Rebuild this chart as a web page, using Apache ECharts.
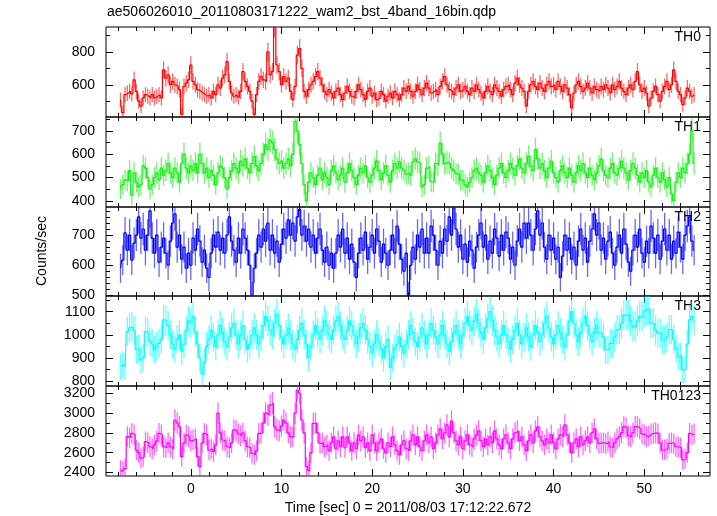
<!DOCTYPE html>
<html><head><meta charset="utf-8">
<script src="https://cdn.jsdelivr.net/npm/echarts@6/dist/echarts.min.js"></script>
<style>html,body{margin:0;padding:0;background:#fff}#c{width:717px;height:516px}</style>
</head><body><div id="c"></div>
<script>
const TITLE = 'ae506026010_20110803171222_wam2_bst_4band_16bin.qdp';
const X_TITLE = 'Time [sec] 0 = 2011/08/03 17:12:22.672';
const Y_TITLE = 'Counts/sec';
const PANEL_NAMES = ['TH0', 'TH1', 'TH2', 'TH3', 'TH0123'];
const COLORS = ['#ff0000', '#11ee11', '#0000ff', '#00ffff', '#ff00ff'];
const T_START = -7.75;   // centre of first time bin [sec]
const BIN = 0.25;        // bin width [sec]

const TH0 = [
508,430,540,
550,560,545,630, 560,500,470,520,
540,530,520,540, 520,530,540,520,
690,640,660,600, 620,600,590,570,
420,590,610,630, 720,620,600,570,
560,550,540,530, 540,520,560,540,
600,580,640,660, 740,620,550,530,
540,525,560,680, 620,590,560,500,
420,540,620,650, 630,620,800,660,
680,950,720,680, 600,650,620,640,
560,510,590,780, 820,700,560,530,
570,600,620,650, 680,640,600,560,
540,570,550,520, 560,580,540,510,
550,590,560,530, 520,560,600,570,
540,510,560,580, 530,550,510,520,
560,540,500,530, 550,520,560,540,
510,540,580,560, 590,560,530,560,
600,570,540,580, 610,580,550,560,
570,540,590,620, 650,600,570,560,
540,580,600,560, 570,590,560,540,
580,560,600,570, 550,520,560,590,
560,540,600,580, 560,530,570,590,
600,570,540,610, 640,600,580,560,
470,560,600,620, 590,570,610,580,
560,600,620,590, 600,570,620,590,
560,600,580,540, 460,550,600,620,
590,560,580,610, 580,550,590,570,
560,590,570,600, 580,550,600,570,
590,620,580,560, 540,580,600,570,
620,680,600,560, 580,550,470,520,
560,590,540,500, 560,590,620,570,
600,690,620,560, 540,480,520,580,
560,530,540
];

const TH1 = [
450,470,490,
485,530,425,520, 480,460,470,550,
540,500,450,470, 500,520,490,540,
510,530,560,520, 500,540,520,480,
560,600,540,520, 550,530,560,520,
600,560,520,540, 500,530,510,470,
520,550,540,500, 450,500,530,560,
540,520,570,550, 580,540,520,560,
590,550,530,560, 600,640,620,660,
650,620,580,560, 570,540,560,580,
550,600,740,700, 640,560,470,400,
480,520,500,470, 510,540,490,520,
500,470,530,550, 520,490,510,540,
480,520,560,530, 500,470,510,540,
520,550,500,480, 510,540,570,530,
490,520,550,510, 480,530,560,540,
567,540,531,515, 520,510,567,580,
567,560,460,470, 540,545,482,480,
560,555,647,600, 560,565,560,540,
530,517,515,489, 489,470,460,480,
500,531,540,520, 510,480,520,550,
530,500,470,510, 540,560,520,500,
530,560,540,510, 550,580,540,520,
560,590,550,530, 620,580,540,560,
530,500,540,570, 520,500,480,530,
550,520,500,540, 510,480,520,550,
530,560,520,500, 540,510,490,520,
550,580,530,510, 500,540,560,520,
510,540,570,540, 520,490,530,560,
540,510,480,520, 500,530,480,460,
510,540,500,480, 520,490,460,500,
430,400,480,520, 500,540,520,560,
600,700,560
];

const TH2 = [
590,617,707,
650,700,617,673, 700,760,690,720,
650,700,780,690, 640,700,610,660,
690,640,600,680, 740,770,660,700,
620,660,590,640, 600,690,650,720,
680,610,650,590, 560,640,700,660,
710,650,690,640, 700,760,680,650,
610,690,640,720, 690,650,600,500,
590,640,700,660, 720,680,740,650,
700,640,680,610, 670,720,690,750,
700,740,680,760, 785,700,730,680,
720,660,700,640, 690,720,650,610,
660,600,640,590, 640,700,660,720,
640,690,620,670, 610,560,640,690,
650,710,620,660, 700,640,720,680,
610,670,640,600, 650,700,640,730,
670,620,580,640, 500,600,660,620,
700,660,720,640, 690,640,730,700,
650,600,680,640, 720,680,760,700,
790,720,660,700, 620,670,610,680,
650,590,660,700, 740,660,700,620,
680,640,720,690, 630,700,650,710,
690,620,660,600, 680,720,660,740,
690,740,700,650, 720,780,700,740,
660,620,700,650, 690,620,660,560,
630,700,650,690, 620,660,600,680,
720,650,690,610, 680,720,770,700,
740,650,690,620, 680,710,640,600,
660,700,640,720, 670,610,580,650,
700,660,720,640, 610,680,640,730,
690,640,700,620, 680,720,650,700,
620,680,640,710, 660,620,700,730,
760,680,650
];

const TH3 = [
862,870,862,
1014,1030,1035,1020, 935,940,891,900,
1014,1010,971,960, 935,950,963,980,
1065,1060,1040,1000, 960,940,980,1000,
930,960,1020,1060, 1050,1080,1010,960,
900,830,880,950, 980,1020,990,950,
1000,1040,1010,970, 950,990,1030,1050,
1000,960,1000,1040, 980,940,960,1000,
1030,1000,960,990, 1040,1080,1060,1020,
1000,1050,1090,1040, 990,960,1000,1030,
1000,960,940,980, 1020,1050,1000,960,
900,950,1000,1040, 1010,980,1020,1060,
1040,1000,980,1020, 1060,1080,1040,1000,
980,1020,1060,1040, 1000,960,990,1030,
1050,1020,980,950, 920,960,1000,970,
940,900,950,980, 860,900,940,960,
990,950,920,960, 1000,1040,1010,970,
950,990,1030,1000, 960,1000,1050,1020,
990,960,1000,1040, 1000,960,930,970,
1010,1040,1000,960, 1000,1050,1080,1040,
1020,1060,1090,1050, 1010,980,1030,1070,
1100,1060,1020,990, 960,1000,1040,1000,
970,940,980,1020, 1050,1000,960,990,
1030,990,950,1000, 1040,1010,970,1000,
1050,1080,1030,990, 960,1000,1040,1010,
980,950,1000,1060, 1100,1050,1000,970,
1010,1050,1080,1040, 1000,970,1010,1040,
1007,1007,990,935, 935,963,963,990,
1022,1022,1050,1085, 1085,1085,1060,1036,
1036,1060,1080,1080, 1100,1109,1109,1050,
1050,1020,1007,1007, 978,978,990,1022,
1022,980,940,906, 906,848,850,960,
1065,1080,1060
];

const TH0123 = [
2425,2410,2440,
2762,2750,2795,2780, 2627,2600,2545,2560,
2711,2700,2660,2640, 2680,2720,2795,2780,
2660,2650,2700,2660, 2640,2930,2900,2862,
2560,2700,2778,2760, 2720,2728,2740,2560,
2460,2700,2795,2780, 2627,2640,2610,2680,
3000,2800,2728,2720, 2660,2650,2700,2830,
2820,2790,2770,2800, 2720,2660,2650,2594,
2580,2620,2795,2800, 2900,3000,2980,3080,
3100,2860,2830,2820, 2870,2930,2900,2800,
2762,2760,3000,3230, 3200,2930,2800,2460,
2420,2600,2895,2900, 2800,2695,2700,2660,
2680,2620,2700,2760, 2640,2720,2660,2760,
2650,2760,2700,2620, 2700,2640,2780,2720,
2760,2650,2700,2620, 2780,2700,2620,2700,
2740,2640,2600,2700, 2660,2760,2680,2620,
2580,2680,2720,2640, 2620,2720,2780,2680,
2760,2660,2620,2720, 2780,2700,2760,2640,
2700,2780,2840,2740, 2800,2880,2760,2920,
2800,2720,2680,2760, 2640,2720,2780,2680,
2660,2740,2780,2820, 2720,2660,2740,2680,
2760,2700,2820,2740, 2680,2640,2740,2780,
2700,2640,2740,2800, 2820,2720,2760,2680,
2620,2720,2780,2700, 2820,2860,2760,2720,
2680,2740,2700,2780, 2700,2640,2740,2780,
2760,2880,2780,2700, 2600,2700,2740,2660,
2760,2680,2720,2760, 2700,2800,2840,2740,
2695,2700,2700,2690, 2710,2660,2650,2700,
2740,2762,2800,2863, 2850,2770,2762,2800,
2863,2860,2840,2790, 2780,2762,2770,2790,
2795,2800,2790,2700, 2627,2630,2640,2695,
2700,2690,2660,2660, 2650,2527,2540,2600,
2795,2780,2790
];

const SERIES_VALUES = [TH0, TH1, TH2, TH3, TH0123];

// axis ranges and ticks
const X_MIN = -9.35, X_MAX = 57.25;
const X_LABELS = [0, 10, 20, 30, 40, 50];
const X_MINOR = [-8,-6,-4,-2,2,4,6,8,12,14,16,18,22,24,26,28,32,34,36,38,42,44,46,48,52,54,56];
const Y_MIN = [404, 374, 498, 778, 2365];
const Y_MAX = [951, 759, 793, 1168, 3273];
const Y_LABELS = [[600, 800], [400, 500, 600, 700], [500, 600, 700], [800, 900, 1000, 1100], [2400, 2600, 2800, 3000, 3200]];
const Y_MINOR = [
  [500, 700, 900],
  [450, 550, 650, 750],
  [520, 540, 560, 580, 620, 640, 660, 680, 720, 740, 760, 780],
  [850, 950, 1050, 1150],
  [2500, 2700, 2900, 3100]
];

// layout
const FONT = "'Liberation Sans', Arial, Helvetica, sans-serif";
const GRID_LEFT = 106, GRID_RIGHT = 7;
const GRID_TOPS = [27, 117, 207, 296, 386];
const GRID_HEIGHTS = [90, 90, 89, 90, 90];
const MAJOR_LEN = 7, MINOR_LEN = 4;

const chart = echarts.init(document.getElementById('c'), null, {renderer: 'canvas'});

const grids = [], xAxes = [], yAxes = [], series = [], graphics = [];

function tickAxis(base, values, len, showLabel) {
  return Object.assign({
    type: 'value',
    axisLine: {show: false, onZero: false},
    axisTick: {show: true, inside: true, length: len, customValues: values, lineStyle: {color: '#000', width: 1}},
    axisLabel: showLabel ? {show: true, customValues: values, color: '#000', fontSize: 14, fontFamily: FONT,
      formatter: v => String(v)} : {show: false},
    splitLine: {show: false},
    minorTick: {show: false},
    silent: true
  }, base);
}

function renderErr(params, api) {
  const t = api.value(0), v = api.value(1), e = api.value(2);
  const lo = api.coord([t, v - e]);
  const hi = api.coord([t, v + e]);
  return {
    type: 'line',
    shape: {x1: lo[0], y1: lo[1], x2: hi[0], y2: hi[1]},
    style: {stroke: api.visual('color'), lineWidth: 1.3, opacity: 0.6}
  };
}

for (let i = 0; i < 5; i++) {
  grids.push({left: GRID_LEFT, right: GRID_RIGHT, top: GRID_TOPS[i], height: GRID_HEIGHTS[i],
    show: true, borderColor: '#000', borderWidth: 1, backgroundColor: 'transparent', containLabel: false});
  const xb = {gridIndex: i, min: X_MIN, max: X_MAX};
  xAxes.push(tickAxis(Object.assign({position: 'bottom'}, xb), X_LABELS, MAJOR_LEN, i === 4));
  xAxes.push(tickAxis(Object.assign({position: 'bottom'}, xb), X_MINOR, MINOR_LEN, false));
  xAxes.push(tickAxis(Object.assign({position: 'top'}, xb), X_LABELS, MAJOR_LEN, false));
  xAxes.push(tickAxis(Object.assign({position: 'top'}, xb), X_MINOR, MINOR_LEN, false));
  if (i === 4) xAxes[xAxes.length - 4].axisLabel.margin = 6;
  const yb = {gridIndex: i, min: Y_MIN[i], max: Y_MAX[i]};
  const yl = tickAxis(Object.assign({position: 'left'}, yb), Y_LABELS[i], MAJOR_LEN, true);
  yl.axisLabel.margin = 11;
  yAxes.push(yl);
  yAxes.push(tickAxis(Object.assign({position: 'left'}, yb), Y_MINOR[i], MINOR_LEN, false));
  yAxes.push(tickAxis(Object.assign({position: 'right'}, yb), Y_LABELS[i], MAJOR_LEN, false));
  yAxes.push(tickAxis(Object.assign({position: 'right'}, yb), Y_MINOR[i], MINOR_LEN, false));

  const vals = SERIES_VALUES[i];
  const pts = vals.map((v, k) => [T_START + k * BIN, v, 2 * Math.sqrt(v)]);
  series.push({
    type: 'custom',
    name: PANEL_NAMES[i] + ' err',
    coordinateSystem: 'cartesian2d',
    xAxisIndex: 4 * i,
    yAxisIndex: 4 * i,
    clip: true,
    silent: true,
    itemStyle: {color: COLORS[i]},
    encode: {x: 0, y: 1},
    renderItem: renderErr,
    data: pts
  });
  series.push({
    type: 'line',
    name: PANEL_NAMES[i],
    xAxisIndex: 4 * i,
    yAxisIndex: 4 * i,
    step: 'middle',
    showSymbol: false,
    symbol: 'none',
    clip: true,
    silent: true,
    lineStyle: {color: COLORS[i], width: 1.2},
    itemStyle: {color: COLORS[i]},
    data: pts.map(p => [p[0], p[1]])
  });

  graphics.push({type: 'text', right: 16, top: GRID_TOPS[i] + 3,
    style: {text: PANEL_NAMES[i], fill: '#000', font: '14px ' + FONT}});
}

graphics.push({type: 'text', left: 107, top: 5, style: {text: TITLE, fill: '#000', font: '14px ' + FONT}});
graphics.push({type: 'text', x: 408, y: 508, style: {text: X_TITLE, fill: '#000', font: '14px ' + FONT, textAlign: 'center', textVerticalAlign: 'middle'}});
graphics.push({type: 'text', x: 42, y: 251, rotation: Math.PI / 2, style: {text: Y_TITLE, fill: '#000', font: '14px ' + FONT, textAlign: 'center', textVerticalAlign: 'middle'}});

chart.setOption({
  animation: false,
  backgroundColor: '#fff',
  grid: grids,
  xAxis: xAxes,
  yAxis: yAxes,
  series: series,
  graphic: graphics
});
</script>
</body></html>
